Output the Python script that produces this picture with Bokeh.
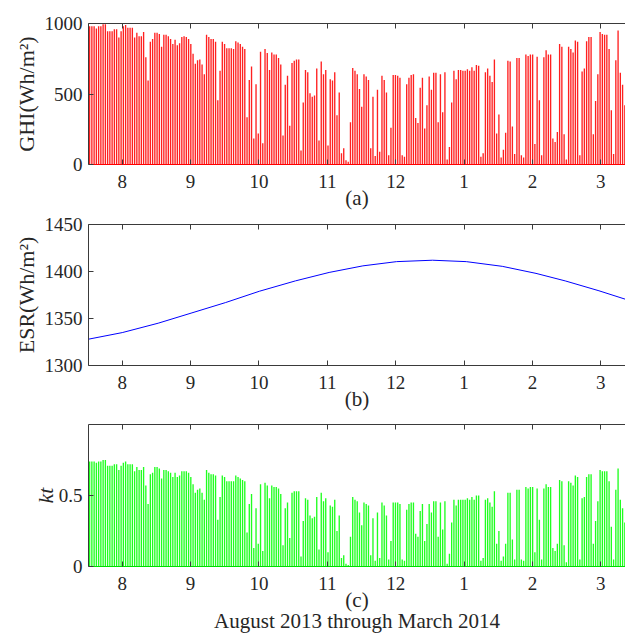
import numpy as np
import pandas as pd
from bokeh.plotting import figure
from bokeh.models import Range1d, FixedTicker, LinearAxis
from bokeh.layouts import column
from bokeh.embed import file_html
from bokeh.resources import INLINE

# ---------------- data ----------------
start_date = "2013-08-01"          # one value per day from this date
month_labels = ["8", "9", "10", "11", "12", "1", "2", "3"]

# daily peak of hourly GHI (Wh/m^2)
ghi = [
    980, 980, 980, 965, 980, 980, 995, 995, 945, 945,
    945, 960, 960, 900, 945, 980, 990, 970, 970, 970,
    900, 935, 910, 910, 940, 760, 595, 870, 890, 935,
    935, 925, 835, 920, 920, 910, 890, 855, 885, 845,
    860, 905, 910, 905, 890, 855, 785, 715, 740, 745,
    710, 640, 920, 905, 890, 890, 870, 455, 665, 870,
    855, 825, 825, 825, 820, 875, 865, 855, 835, 820,
    335, 600, 695, 185, 570, 220, 800, 150, 820, 790,
    670, 795, 780, 780, 755, 710, 205, 565, 630, 275,
    720, 735, 745, 745, 100, 440, 670, 655, 505, 480,
    490, 680, 170, 730, 640, 670, 135, 605, 595, 655,
    350, 510, 80, 115, 30, 20, 300, 685, 665, 640,
    535, 410, 640, 625, 600, 115, 480, 60, 530, 90,
    630, 600, 510, 65, 260, 635, 635, 630, 615, 65,
    55, 570, 615, 635, 640, 330, 295, 545, 615, 255,
    420, 625, 530, 650, 650, 300, 640, 370, 655, 35,
    125, 440, 665, 605, 670, 670, 665, 665, 675, 665,
    690, 665, 705, 700, 55, 80, 655, 680, 630, 585,
    745, 220, 355, 50, 105, 225, 735, 730, 270, 75,
    755, 755, 65, 50, 780, 770, 780, 780, 145, 765,
    455, 65, 760, 810, 780, 780, 185, 160, 230, 855,
    835, 215, 35, 835, 820, 795, 880, 870, 65, 660,
    680, 875, 905, 905, 215, 450, 640, 940, 925, 920,
    920, 820, 385, 75, 740, 950, 650, 565, 420,
]

# daily peak of hourly clearness index kt
kt = [
    0.74, 0.74, 0.74, 0.73, 0.74, 0.74, 0.75, 0.75, 0.71, 0.71,
    0.71, 0.72, 0.72, 0.68, 0.71, 0.73, 0.74, 0.72, 0.72, 0.72,
    0.67, 0.70, 0.68, 0.68, 0.70, 0.57, 0.44, 0.65, 0.66, 0.70,
    0.70, 0.69, 0.62, 0.68, 0.68, 0.67, 0.66, 0.63, 0.66, 0.63,
    0.64, 0.67, 0.67, 0.67, 0.66, 0.63, 0.58, 0.52, 0.54, 0.55,
    0.52, 0.47, 0.68, 0.66, 0.65, 0.65, 0.64, 0.33, 0.49, 0.64,
    0.63, 0.60, 0.60, 0.60, 0.60, 0.64, 0.63, 0.62, 0.61, 0.60,
    0.24, 0.44, 0.51, 0.13, 0.41, 0.16, 0.58, 0.11, 0.59, 0.57,
    0.48, 0.57, 0.56, 0.56, 0.55, 0.51, 0.15, 0.41, 0.45, 0.20,
    0.52, 0.53, 0.53, 0.53, 0.07, 0.32, 0.48, 0.47, 0.36, 0.34,
    0.35, 0.49, 0.12, 0.52, 0.46, 0.48, 0.10, 0.43, 0.42, 0.47,
    0.25, 0.36, 0.06, 0.08, 0.02, 0.01, 0.21, 0.49, 0.47, 0.46,
    0.38, 0.29, 0.45, 0.44, 0.43, 0.08, 0.34, 0.04, 0.38, 0.06,
    0.45, 0.43, 0.36, 0.05, 0.18, 0.45, 0.45, 0.45, 0.44, 0.05,
    0.04, 0.40, 0.44, 0.45, 0.45, 0.23, 0.21, 0.39, 0.44, 0.18,
    0.30, 0.44, 0.38, 0.46, 0.46, 0.21, 0.45, 0.26, 0.46, 0.02,
    0.09, 0.31, 0.47, 0.43, 0.47, 0.47, 0.47, 0.47, 0.48, 0.47,
    0.49, 0.47, 0.50, 0.50, 0.04, 0.06, 0.47, 0.48, 0.45, 0.42,
    0.53, 0.16, 0.25, 0.04, 0.07, 0.16, 0.52, 0.52, 0.19, 0.05,
    0.54, 0.54, 0.05, 0.04, 0.56, 0.55, 0.56, 0.56, 0.10, 0.55,
    0.33, 0.05, 0.55, 0.58, 0.56, 0.56, 0.13, 0.11, 0.16, 0.61,
    0.60, 0.15, 0.03, 0.60, 0.59, 0.57, 0.64, 0.63, 0.05, 0.48,
    0.49, 0.63, 0.65, 0.65, 0.16, 0.32, 0.46, 0.68, 0.67, 0.67,
    0.67, 0.60, 0.28, 0.05, 0.54, 0.69, 0.47, 0.41, 0.31,
]

# extraterrestrial solar radiation (Wh/m^2)
esr_dates = ["2013-08-01", "2013-08-16", "2013-09-01", "2013-09-16",
             "2013-10-01", "2013-10-16", "2013-11-01", "2013-11-16",
             "2013-12-01", "2013-12-16", "2014-01-01", "2014-01-16",
             "2014-02-01", "2014-02-16", "2014-03-01", "2014-03-16",
             "2014-03-31"]
esr = [1328, 1335, 1345, 1356, 1367, 1379, 1390, 1399, 1406, 1410.5,
       1412, 1410.5, 1405.5, 1398, 1390, 1379.5, 1368]

period_label = "August 2013 through March 2014"

# ---------------- layout / style ----------------
FONT = "Liberation Serif"
AXIS = "#3a3a3a"
TXT = "#262626"
W = 625
X_END = 238.8
TICKS = [15, 45.4, 75.8, 106.2, 136.6, 167.0, 197.4, 227.8]
x_overrides = dict(zip(TICKS, month_labels))

t0 = pd.Timestamp(start_date)
ghi_x = np.arange(len(ghi)) + 0.5
kt_x = np.arange(len(kt)) + 0.5
esr_x = np.array([(pd.Timestamp(d) - t0).days for d in esr_dates], dtype=float)


def panel(height, y0, y1, yticks, ylabel, xlabel, top, bottom,
          ylabel_style="normal", base_color=AXIS, y_overrides=None,
          ylabel_standoff=3):
    p = figure(width=W, height=height,
               x_range=Range1d(0, X_END), y_range=Range1d(y0, y1),
               output_backend="svg", toolbar_location=None,
               min_border_left=88, min_border_right=0,
               min_border_top=top, min_border_bottom=bottom)
    p.xgrid.visible = False
    p.ygrid.visible = False
    p.outline_line_color = None
    p.background_fill_color = "white"
    p.border_fill_color = "white"

    xa = p.xaxis[0]
    xa.ticker = FixedTicker(ticks=TICKS)
    xa.major_label_overrides = x_overrides
    xa.axis_label = xlabel
    xa.axis_line_color = base_color
    xa.major_tick_line_color = AXIS
    xa.major_tick_in = 5
    xa.major_tick_out = 0
    xa.minor_tick_line_color = None
    xa.major_label_text_font = FONT
    xa.major_label_text_font_size = "19px"
    xa.major_label_text_color = TXT
    xa.major_label_standoff = 10
    xa.axis_label_text_font = FONT
    xa.axis_label_text_font_size = "21px"
    xa.axis_label_text_font_style = "normal"
    xa.axis_label_text_color = TXT
    xa.axis_label_standoff = -5

    ya = p.yaxis[0]
    ya.ticker = FixedTicker(ticks=yticks)
    if y_overrides:
        ya.major_label_overrides = y_overrides
    ya.axis_label = ylabel
    ya.axis_line_color = AXIS
    ya.major_tick_line_color = AXIS
    ya.major_tick_in = 5
    ya.major_tick_out = 0
    ya.minor_tick_line_color = None
    ya.major_label_text_font = FONT
    ya.major_label_text_font_size = "19px"
    ya.major_label_text_color = TXT
    ya.major_label_standoff = 6
    ya.axis_label_text_font = FONT
    ya.axis_label_text_font_size = "22px"
    ya.axis_label_text_font_style = ylabel_style
    ya.axis_label_text_color = TXT
    ya.axis_label_standoff = ylabel_standoff

    top_ax = LinearAxis(ticker=FixedTicker(ticks=TICKS),
                        major_label_overrides={t: "" for t in TICKS},
                        major_label_text_font_size="0px",
                        major_label_standoff=0,
                        axis_line_color=AXIS, major_tick_line_color=AXIS,
                        major_tick_in=5, major_tick_out=0,
                        minor_tick_line_color=None)
    p.add_layout(top_ax, "above")
    return p


pa = panel(212, 0, 1000, [0, 500, 1000], "GHI(Wh/m²)", "(a)", 23, 48,
           base_color="#ff0000")
pa.vbar(x=ghi_x, top=ghi, bottom=0, width=0.6,
        fill_color="#ff2020", line_color=None)

pb = panel(205, 1300, 1450, [1300, 1350, 1400, 1450], "ESR(Wh/m²)", "(b)", 12, 52)
pb.line(esr_x, esr, line_color="#0000ff", line_width=1)

pc = panel(218, 0, 1, [0, 0.5], "kt", "(c)", 7, 69,
           ylabel_style="italic", base_color="#00dd00",
           y_overrides={0: "0", 0.5: "0.5"}, ylabel_standoff=-2)
pc.vbar(x=kt_x, top=kt, bottom=0, width=0.6,
        fill_color="#20ff20", line_color=None)
# second, tick-less axis below that only carries the period caption
cap_ax = LinearAxis(ticker=FixedTicker(ticks=[]),
                    axis_line_color=None, major_tick_line_color=None,
                    minor_tick_line_color=None,
                    major_label_text_font_size="0px", major_label_standoff=0,
                    axis_label=period_label, axis_label_text_font=FONT,
                    axis_label_text_font_size="21px",
                    axis_label_text_font_style="normal",
                    axis_label_text_color=TXT, axis_label_standoff=-6)
pc.add_layout(cap_ax, "below")

layout = column(pa, pb, pc)
open("out.html", "w").write(file_html(layout, INLINE))
